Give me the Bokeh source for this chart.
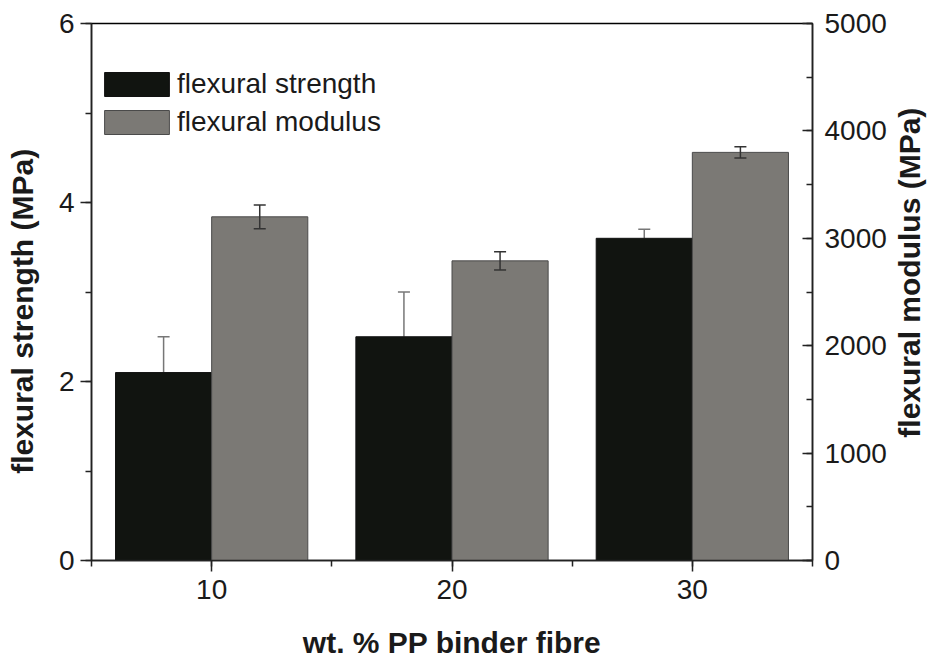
import math
from bokeh.plotting import figure
from bokeh.layouts import row
from bokeh.models import (ColumnDataSource, Range1d, LinearAxis, SingleIntervalTicker,
                          Legend, LegendItem)
from bokeh.core.properties import value
from bokeh.embed import file_html
from bokeh.resources import INLINE

# ---- data ----
categories = [10, 20, 30]                 # wt. % PP binder fibre
strength = [2.1, 2.5, 3.6]                # MPa
strength_err = [0.4, 0.5, 0.1]
modulus = [3200, 2790, 3800]              # MPa
modulus_err = [110, 85, 52]

BAR_W = 4
OFF = 2
CAP = 0.5

xs = [c - OFF for c in categories]
xm = [c + OFF for c in categories]

src_s = ColumnDataSource(dict(
    x=xs, top=strength,
    lo=[v - e for v, e in zip(strength, strength_err)],
    hi=[v + e for v, e in zip(strength, strength_err)],
    c0=[x - CAP / 2 for x in xs], c1=[x + CAP / 2 for x in xs]))
src_m = ColumnDataSource(dict(
    x=xm, top=modulus,
    lo=[v - e for v, e in zip(modulus, modulus_err)],
    hi=[v + e for v, e in zip(modulus, modulus_err)],
    c0=[x - CAP / 2 for x in xm], c1=[x + CAP / 2 for x in xm]))

FONT = "Liberation Sans"

p = figure(frame_width=721, frame_height=537, output_backend="svg", toolbar_location=None,
           x_range=Range1d(5, 35), y_range=Range1d(0, 6),
           min_border_left=47, min_border_right=77, min_border_top=23, min_border_bottom=102)
p.extra_y_ranges = {"mod": Range1d(0, 5000)}
p.xgrid.visible = False
p.ygrid.visible = False
p.outline_line_color = "black"
p.outline_line_width = 1.5
p.background_fill_color = "white"
p.border_fill_color = "white"

# strength error bars (drawn below the black bars)
p.segment(x0="x", y0="top", x1="x", y1="hi", source=src_s, line_color="#777777", line_width=1.5)
p.segment(x0="c0", y0="hi", x1="c1", y1="hi", source=src_s, line_color="#777777", line_width=1.5)
r_s = p.vbar(x="x", top="top", bottom=0, width=BAR_W, source=src_s,
             fill_color="#111410", line_color="#111111", line_width=1)

r_m = p.vbar(x="x", top="top", bottom=0, width=BAR_W, source=src_m, y_range_name="mod",
             fill_color="#7b7975", line_color="#4a4a4a", line_width=1)
p.segment(x0="x", y0="lo", x1="x", y1="hi", source=src_m, y_range_name="mod",
          line_color="#333333", line_width=1.5)
p.segment(x0="c0", y0="hi", x1="c1", y1="hi", source=src_m, y_range_name="mod",
          line_color="#333333", line_width=1.5)
p.segment(x0="c0", y0="lo", x1="c1", y1="lo", source=src_m, y_range_name="mod",
          line_color="#333333", line_width=1.5)

# axes styling
def style(ax):
    ax.axis_line_color = "#222222"
    ax.axis_line_width = 1.5
    ax.major_tick_line_color = "#222222"
    ax.major_tick_line_width = 1.5
    ax.minor_tick_line_color = "#222222"
    ax.minor_tick_line_width = 1.5
    ax.major_label_text_font = FONT
    ax.major_label_text_font_size = "28px"
    ax.major_label_text_color = "#1a1a1a"
    ax.axis_label_text_font = FONT
    ax.axis_label_text_font_size = "30px"
    ax.axis_label_text_font_style = "bold"
    ax.axis_label_text_color = "#1a1a1a"

xa = p.xaxis[0]
xa.ticker = SingleIntervalTicker(interval=10, num_minor_ticks=2)
xa.axis_label = "wt. % PP binder fibre"
style(xa)
xa.major_tick_out = 11
xa.major_tick_in = 0
xa.minor_tick_out = 6
xa.minor_tick_in = 0
xa.major_label_standoff = 8
xa.axis_label_standoff = 24

ya = p.yaxis[0]
ya.ticker = SingleIntervalTicker(interval=2, num_minor_ticks=2)
style(ya)
ya.major_tick_out = 11
ya.major_tick_in = 0
ya.minor_tick_out = 6
ya.minor_tick_in = 0
ya.major_label_standoff = 6

ra = LinearAxis(y_range_name="mod", ticker=SingleIntervalTicker(interval=1000, num_minor_ticks=2))
style(ra)
ra.major_tick_out = 0
ra.major_tick_in = 10
ra.minor_tick_out = 0
ra.minor_tick_in = 6
ra.major_label_standoff = 12
p.add_layout(ra, "right")

legend = Legend(items=[LegendItem(label="flexural strength", renderers=[r_s]),
                       LegendItem(label="flexural modulus", renderers=[r_m])],
                location=(5, 422))
legend.border_line_color = None
legend.background_fill_alpha = 0
legend.margin = 0
legend.padding = 0
legend.glyph_width = 81
legend.glyph_height = 30
legend.label_text_font = FONT
legend.label_text_font_size = "28px"
legend.label_text_color = "#1a1a1a"
legend.label_standoff = 0
legend.spacing = 6
p.add_layout(legend, "center")


def title_panel(width, text, ypos):
    """Narrow panel holding a vertical axis title that reads bottom-to-top."""
    f = figure(frame_width=width, frame_height=537, output_backend="svg", toolbar_location=None,
               x_range=Range1d(0, 1), y_range=Range1d(0, 1), x_axis_type=None, y_axis_type=None,
               min_border_left=0, min_border_right=0, min_border_top=23, min_border_bottom=102)
    f.outline_line_color = None
    f.xgrid.visible = False
    f.ygrid.visible = False
    f.text(x=[0.5], y=[ypos], text=[text], angle=math.pi / 2,
           text_align="center", text_baseline="middle", text_font=value(FONT),
           text_font_size="30px", text_font_style="bold", text_color="#1a1a1a")
    return f


q_left = title_panel(44, "flexural strength (MPa)", 0.464)
q_right = title_panel(39, "flexural modulus (MPa)", 0.536)

layout = row(q_left, p, q_right, spacing=0)
open("out.html", "w").write(file_html(layout, INLINE))
